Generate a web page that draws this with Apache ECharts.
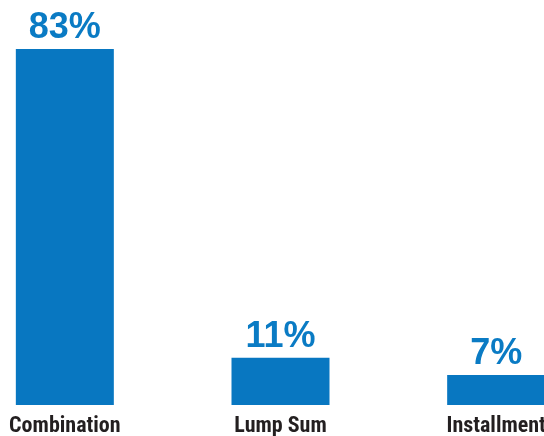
<!DOCTYPE html>
<html>
<head>
<meta charset="utf-8">
<script src="https://cdn.jsdelivr.net/npm/echarts@6/dist/echarts.min.js"></script>
<style>
  html, body { margin: 0; padding: 0; background: #fff; }
  #chart { width: 544px; height: 436px; }
</style>
</head>
<body>
<div id="chart"></div>
<script>
const categories = ['Combination', 'Lump Sum', 'Installment']
const shares = [83, 11, 7]

const chart = echarts.init(document.getElementById('chart'))
chart.setOption({
  animation: false,
  grid: { left: -43, right: -60, top: 49, bottom: 31, outerBoundsMode: 'none' },
  xAxis: {
    type: 'category',
    data: categories,
    axisLine: { show: false },
    axisTick: { show: false },
    axisLabel: {
      interval: 0,
      hideOverlap: false,
      margin: 10,
      color: '#231f20',
      fontFamily: '"Roboto Condensed", sans-serif',
      fontWeight: 'bold',
      fontSize: 22
    }
  },
  yAxis: {
    type: 'value',
    min: 0,
    max: 'dataMax',
    show: false,
    splitLine: { show: false }
  },
  series: [
    {
      type: 'bar',
      data: shares,
      barWidth: 98,
      itemStyle: { color: '#0877c1' },
      label: {
        show: true,
        position: 'top',
        distance: 3,
        formatter: '{c}%',
        color: '#0a7bc4',
        fontFamily: '"Liberation Sans", Arial, sans-serif',
        fontWeight: 'bold',
        fontSize: 36
      }
    }
  ]
})
</script>
</body>
</html>
